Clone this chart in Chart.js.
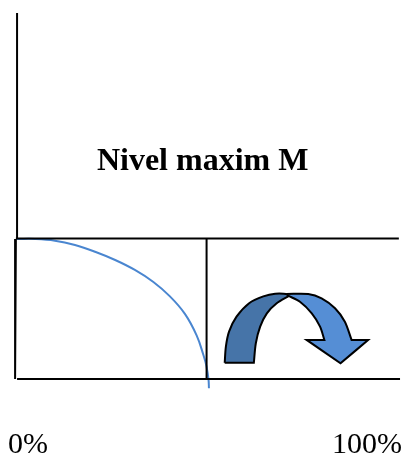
<!DOCTYPE html>
<html>
<head>
<meta charset="utf-8">
<style>
    html, body { margin: 0; padding: 0; background: #fff; }
    canvas { display: block; }
</style>
<script src="https://cdn.jsdelivr.net/npm/chart.js@4"></script>
</head>
<body>
<canvas id="myChart" width="405" height="455"></canvas>
<script>
const xTicks = [0, 100];
const levelLabel = 'Nivel maxim M';
const levelLabelPos = { x: 49.4, y: 155.4 };

// demand curve, falls from level M through the baseline
const curveX = [2.3, 6.9, 11.9, 17.0, 22.1, 27.2, 32.2, 36.9, 41.1, 44.9, 47.9, 49.6, 50.4, 50.9, 51.0];
const curveY = [100, 100, 98.8, 95.7, 90.9, 85.0, 77.9, 69.3, 59.0, 46.5, 31.0, 17.1, 8.8, -0.7, -6.6];

const axisUpperX = [2.3, 2.3];
const axisUpperY = [261.4, 100];
const axisLowerX = [2.0, 1.8];
const axisLowerY = [100, 0];
const levelX = [2.0, 99.2];
const levelY = [100.4, 100.4];
const baseX = [2.3, 99.5];
const baseY = [0, 0];
const splitX = [50.4, 50.4];
const splitY = [100, 0];

// curved arrow outline, corners are repeated so they stay sharp
const arrowDarkX = [55.0, 55.0, 55.3, 56.1, 58.0, 61.2, 64.8, 67.8, 71.1, 71.3, 71.3, 68.2, 65.7, 64.0, 62.9, 62.4, 62.4, 55.0, 55.0];
const arrowDarkY = [11.6, 11.6, 23.1, 33.8, 44.5, 54.1, 59.0, 60.9, 60.5, 59.3, 59.3, 54.1, 46.9, 37.4, 25.5, 11.6, 11.6, 11.6, 11.6];
const arrowLightX = [70.7, 70.7, 76.2, 79.6, 83.0, 85.5, 87.2, 87.2, 91.4, 91.4, 84.4, 84.4, 75.8, 75.8, 80.3, 80.3, 79.2, 77.1, 74.1, 71.1, 71.1, 70.7, 70.7];
const arrowLightY = [60.7, 60.7, 60.7, 57.6, 50.5, 40.9, 27.9, 27.9, 27.9, 27.9, 11.2, 11.2, 27.9, 27.9, 27.9, 27.9, 37.4, 46.9, 55.2, 59.5, 59.5, 60.7, 60.7];

function toPoints(xs, ys) {
    return xs.map((x, i) => ({ x: x, y: ys[i] }));
}

function lineSet(xs, ys, color, width) {
    return {
        data: toPoints(xs, ys),
        showLine: true,
        borderColor: color,
        borderWidth: width,
        pointRadius: 0,
        clip: false
    };
}

function arrowSet(xs, ys, color) {
    return {
        data: toPoints(xs, ys),
        showLine: true,
        borderColor: '#000',
        borderWidth: 2,
        borderJoinStyle: 'miter',
        backgroundColor: color,
        fill: 'shape',
        tension: 0.3,
        pointRadius: 0,
        clip: false
    };
}

const levelText = {
    id: 'levelText',
    afterDatasetsDraw(chart) {
        const ctx = chart.ctx;
        ctx.save();
        ctx.font = 'bold 32px "Liberation Serif"';
        ctx.fillStyle = '#000';
        ctx.textAlign = 'center';
        ctx.textBaseline = 'middle';
        ctx.fillText(levelLabel,
            chart.scales.x.getPixelForValue(levelLabelPos.x),
            chart.scales.y.getPixelForValue(levelLabelPos.y));
        ctx.restore();
    }
};

new Chart(document.getElementById('myChart').getContext('2d'), {
    type: 'scatter',
    data: {
        datasets: [
            lineSet(axisUpperX, axisUpperY, '#000', 2),
            lineSet(axisLowerX, axisLowerY, '#000', 2),
            lineSet(levelX, levelY, '#000', 2),
            lineSet(baseX, baseY, '#000', 2),
            lineSet(splitX, splitY, '#000', 2),
            Object.assign(lineSet(curveX, curveY, '#4a86d0', 2), { tension: 0.4 }),
            arrowSet(arrowLightX, arrowLightY, '#558ed5'),
            arrowSet(arrowDarkX, arrowDarkY, '#4674a8')
        ]
    },
    options: {
        responsive: false,
        animation: false,
        layout: { padding: { left: 8, right: 3, top: 13, bottom: 0 } },
        plugins: { legend: { display: false }, tooltip: { enabled: false } },
        scales: {
            x: {
                type: 'linear',
                min: 0,
                max: 100,
                afterBuildTicks: axis => { axis.ticks = xTicks.map(v => ({ value: v })); },
                // labels sit flush with the plot edges, band under the plot is fixed
                afterFit: axis => {
                    axis.paddingLeft = 0;
                    axis.paddingRight = 0;
                    axis.height = 76;
                },
                grid: { display: false, drawTicks: false },
                border: { display: false },
                ticks: {
                    align: 'inner',
                    padding: 48,
                    maxRotation: 0,
                    autoSkip: false,
                    color: '#000',
                    font: { family: '"Liberation Serif"', size: 30 },
                    callback: v => v + '%'
                }
            },
            y: {
                display: false,
                min: 0,
                max: 261.4
            }
        }
    },
    plugins: [levelText]
});
</script>
</body>
</html>
